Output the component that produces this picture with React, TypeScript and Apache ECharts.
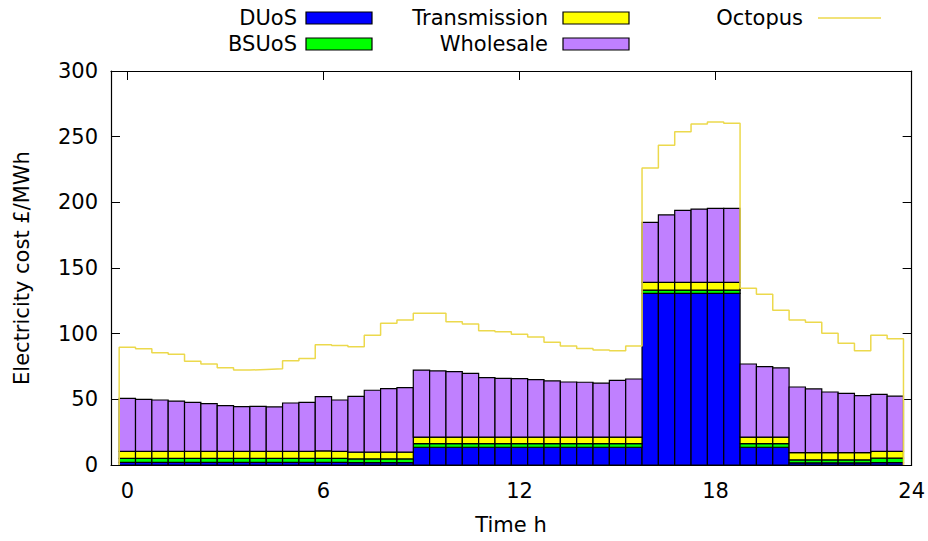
import React, { useEffect, useRef } from 'react';
import * as echarts from 'echarts';

// Half-hour settlement periods (bar centres, hours)
const slots = Array.from({ length: 48 }, (_, i) => i * 0.5);

// Cost components, £/MWh, stacked bottom to top
const duos = [
  2.0, 2.0, 2.0, 2.0, 2.0, 2.0, 2.0, 2.0, 2.0, 2.0, 2.0, 2.0, 2.0, 2.0,
  1.8, 1.8, 1.8, 1.8,
  13.5, 13.5, 13.5, 13.5, 13.5, 13.5, 13.5, 13.5, 13.5, 13.5, 13.5, 13.5, 13.5, 13.5,
  130.7, 130.7, 130.7, 130.7, 130.7, 130.7,
  13.5, 13.5, 13.5,
  1.6, 1.6, 1.6, 1.6, 1.6,
  1.8, 1.8,
];
const bsuos = [
  3.1, 3.1, 3.1, 3.1, 3.1, 3.1, 3.1, 3.1, 3.1, 3.1, 3.1, 3.1, 3.1, 3.1,
  2.8, 2.8, 2.8, 2.8,
  2.7, 2.7, 2.7, 2.7, 2.7, 2.7, 2.7, 2.7, 2.7, 2.7, 2.7, 2.7, 2.7, 2.7,
  2.5, 2.5, 2.5, 2.5, 2.5, 2.5,
  2.7, 2.7, 2.7,
  2.3, 2.3, 2.3, 2.3, 2.3,
  3.4, 3.4,
];
const transmission = [
  5.2, 5.2, 5.2, 5.2, 5.2, 5.2, 5.2, 5.2, 5.2, 5.2, 5.2, 5.2, 5.6, 5.2,
  5.2, 5.2, 5.2, 5.2,
  5.1, 5.1, 5.1, 5.1, 5.1, 5.1, 5.1, 5.1, 5.1, 5.1, 5.1, 5.1, 5.1, 5.1,
  5.9, 5.9, 5.9, 5.9, 5.9, 5.9,
  5.1, 5.1, 5.1,
  5.5, 5.5, 5.5, 5.5, 5.5,
  5.2, 5.2,
];
const wholesale = [
  40.5, 39.7, 39.2, 38.4, 37.4, 36.4, 34.9, 34.1, 34.4, 33.9, 36.9, 37.4,
  41.3, 39.2, 42.5, 47.1, 48.3, 49.1,
  51.0, 50.3, 49.8, 48.5, 45.2, 44.7, 44.4, 43.7, 42.7, 41.9, 41.7, 41.1, 43.2, 44.2,
  45.7, 51.3, 54.8, 55.8, 56.3, 56.3,
  55.6, 53.6, 52.6,
  50.0, 48.5, 46.2, 45.2, 43.4, 43.4, 42.1,
];
// Octopus Agile unit rate, £/MWh
const octopus = [
  89.6, 88.6, 85.5, 84.3, 79.0, 76.9, 74.1, 72.3, 72.8, 73.3, 79.4, 81.0,
  91.6, 90.9, 90.1, 98.7, 107.9, 110.4,
  115.5, 115.5, 109.1, 107.4, 102.3, 101.5, 99.5, 97.5, 93.4, 90.6, 88.8, 87.6, 87.0, 90.6,
  226.1, 243.4, 253.8, 259.6, 261.2, 260.2,
  134.5, 130.0, 117.8, 110.4, 108.6, 100.3, 92.7, 87.0, 98.7, 96.2,
];

const xTicks = [0, 6, 12, 18, 24];

const FONT = 'DejaVu Sans';
const FS = 21;

const components = [
  { name: 'DUoS', values: duos, color: '#0000ff' },
  { name: 'BSUoS', values: bsuos, color: '#00ff00' },
  { name: 'Transmission', values: transmission, color: '#ffff00' },
  { name: 'Wholesale', values: wholesale, color: '#c080ff' },
];
const OCTOPUS_COLOR = '#ecd94c';
const HALF = 0.25;

function stackedData() {
  const base = slots.map(() => 0);
  return components.map((c) =>
    c.values.map((v, i) => {
      const lo = base[i];
      base[i] = lo + v;
      return [slots[i], lo, lo + v];
    })
  );
}

function histeps() {
  const pts: number[][] = [[slots[0] - HALF, 0]];
  octopus.forEach((v, i) => {
    pts.push([slots[i] - HALF, v]);
    pts.push([slots[i] + HALF, v]);
  });
  pts.push([slots[slots.length - 1] + HALF, 0]);
  return pts;
}

export default function App() {
  const ref = useRef<HTMLDivElement>(null);

  useEffect(() => {
    if (!ref.current) return;
    const chart = echarts.init(ref.current, null, { renderer: 'svg' });
    const stacks = stackedData();

    const tickStyle = { show: true, inside: true, length: 9, lineStyle: { color: '#000', width: 1 } };
    const lineStyle = { show: true, onZero: false, lineStyle: { color: '#000', width: 1.2 } };
    const labelStyle = { color: '#000', fontFamily: FONT, fontSize: FS };
    const font = `${FS}px "${FONT}"`;

    const legendItems: any[] = [];
    const legendPos = [
      { tx: 297, bx: 306, y: 18 },
      { tx: 297, bx: 306, y: 44 },
      { tx: 548, bx: 563, y: 18 },
      { tx: 548, bx: 563, y: 44 },
    ];
    components.forEach((c, k) => {
      const p = legendPos[k];
      legendItems.push({
        type: 'text', x: p.tx, y: p.y,
        style: { text: c.name, fill: '#000', font, align: 'right', verticalAlign: 'middle' },
      });
      legendItems.push({
        type: 'rect', shape: { x: p.bx, y: p.y - 6, width: 66, height: 12 },
        style: { fill: c.color, stroke: '#000', lineWidth: 1.2 },
      });
    });
    legendItems.push({
      type: 'text', x: 803, y: 18,
      style: { text: 'Octopus', fill: '#000', font, align: 'right', verticalAlign: 'middle' },
    });
    legendItems.push({
      type: 'line', shape: { x1: 818, y1: 18, x2: 881, y2: 18 },
      style: { stroke: OCTOPUS_COLOR, lineWidth: 1.5 },
    });

    chart.setOption({
      animation: false,
      backgroundColor: '#fff',
      grid: { left: 111, right: 13, top: 71, bottom: 76 },
      xAxis: [
        {
          type: 'value', position: 'bottom', min: -0.5, max: 24,
          axisLine: lineStyle,
          axisTick: { ...tickStyle, customValues: xTicks },
          axisLabel: { ...labelStyle, margin: 15, customValues: xTicks },
          splitLine: { show: false },
        },
        {
          type: 'value', position: 'top', min: -0.5, max: 24,
          axisLine: lineStyle,
          axisTick: { ...tickStyle, customValues: xTicks },
          axisLabel: { show: false, customValues: xTicks },
          splitLine: { show: false },
        },
      ],
      yAxis: [
        {
          type: 'value', position: 'left', min: 0, max: 300, interval: 50,
          axisLine: lineStyle, axisTick: tickStyle,
          axisLabel: { ...labelStyle, margin: 13 },
          splitLine: { show: false },
        },
        {
          type: 'value', position: 'right', min: 0, max: 300, interval: 50,
          axisLine: lineStyle, axisTick: tickStyle,
          axisLabel: { show: false },
          splitLine: { show: false },
        },
      ],
      graphic: [
        ...legendItems,
        {
          type: 'text', x: 511, y: 525,
          style: { text: 'Time h', fill: '#000', font, align: 'center', verticalAlign: 'middle' },
        },
        {
          type: 'text', x: 22, y: 268, rotation: Math.PI / 2,
          style: { text: 'Electricity cost £/MWh', fill: '#000', font, align: 'center', verticalAlign: 'middle' },
        },
      ],
      series: [
        ...components.map((c, k) => ({
          type: 'custom',
          name: c.name,
          xAxisIndex: 0,
          yAxisIndex: 0,
          data: stacks[k],
          encode: { x: 0, y: [1, 2] },
          renderItem: (_params: any, api: any) => {
            const x = api.value(0);
            const lo = api.value(1);
            const hi = api.value(2);
            const a = api.coord([x - HALF, hi]);
            const b = api.coord([x + HALF, lo]);
            return {
              type: 'rect',
              shape: { x: a[0], y: a[1], width: b[0] - a[0], height: b[1] - a[1] },
              style: { fill: c.color, stroke: '#000', lineWidth: 1.2 },
            };
          },
          z: 2,
        })),
        {
          type: 'line',
          name: 'Octopus',
          xAxisIndex: 0,
          yAxisIndex: 0,
          data: histeps(),
          showSymbol: false,
          symbol: 'none',
          lineStyle: { color: OCTOPUS_COLOR, width: 1.5 },
          z: 5,
        },
      ],
    });

    return () => chart.dispose();
  }, []);

  return (
    <div
      ref={ref}
      style={{ position: 'fixed', left: 0, top: 0, width: 928, height: 541 }}
    />
  );
}
